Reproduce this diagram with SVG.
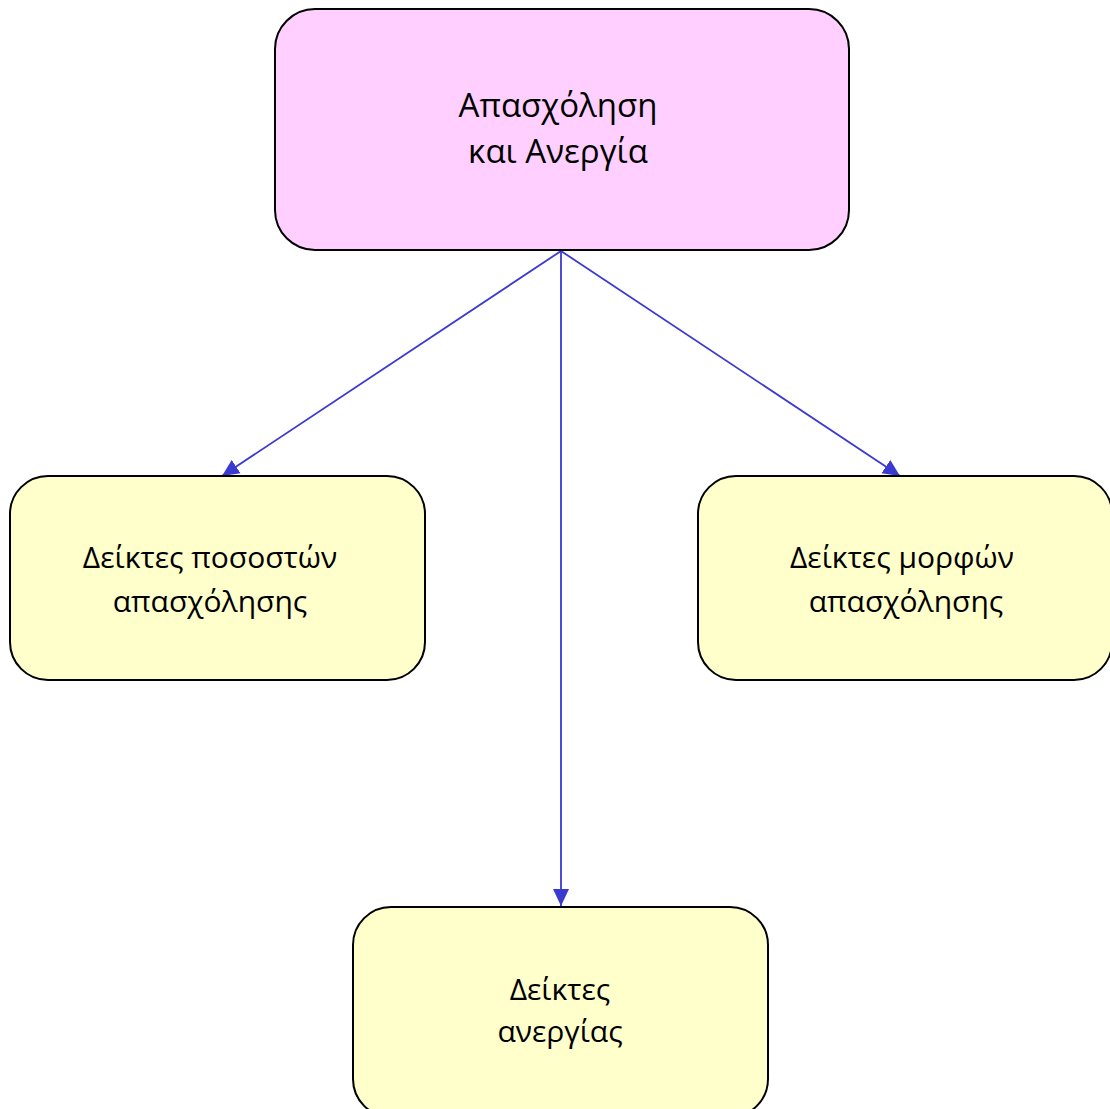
<svg xmlns="http://www.w3.org/2000/svg" width="1110" height="1109" viewBox="0 0 1110 1109">
<defs>
<style>
.box{stroke:#000;stroke-width:2}
.top{fill:#FFD0FF}
.leaf{fill:#FFFFCC}
.t{font-family:"Open Sans","Noto Sans","DejaVu Sans",sans-serif;fill:#000;text-anchor:middle}
.conn{stroke:#3A3AD0;stroke-width:1.8;fill:none}
</style>
<marker id="arr" markerUnits="userSpaceOnUse" markerWidth="18" markerHeight="18" viewBox="0 0 18 18" refX="17" refY="9" orient="auto">
<path d="M0,1 L17,9 L0,17 Z" fill="#3A3AD0"/>
</marker>
</defs>
<rect width="1110" height="1109" fill="#fff"/>
<g id="connectors">
<line class="conn" x1="561" y1="251" x2="222" y2="476" marker-end="url(#arr)"/>
<line class="conn" x1="561" y1="251" x2="561" y2="906" marker-end="url(#arr)"/>
<line class="conn" x1="561" y1="251" x2="900" y2="476" marker-end="url(#arr)"/>
</g>
<g id="node-top">
<rect class="box top" x="275" y="9" width="574" height="241" rx="40" ry="40"/>
<text class="t" x="558" y="117" font-size="33">Απασχόληση</text>
<text class="t" x="558" y="163" font-size="33">και Ανεργία</text>
</g>
<g id="node-left">
<rect class="box leaf" x="10" y="476" width="415" height="204" rx="38" ry="38"/>
<text class="t" x="210" y="568" font-size="30">Δείκτες ποσοστών</text>
<text class="t" x="210" y="612" font-size="30">απασχόλησης</text>
</g>
<g id="node-right">
<rect class="box leaf" x="698" y="476" width="414" height="204" rx="38" ry="38"/>
<text class="t" x="902" y="568" font-size="30">Δείκτες μορφών</text>
<text class="t" x="906" y="612" font-size="30">απασχόλησης</text>
</g>
<g id="node-bottom">
<rect class="box leaf" x="353" y="907" width="415" height="210" rx="38" ry="38"/>
<text class="t" x="560" y="1000" font-size="30">Δείκτες</text>
<text class="t" x="560" y="1042" font-size="30">ανεργίας</text>
</g>
</svg>
